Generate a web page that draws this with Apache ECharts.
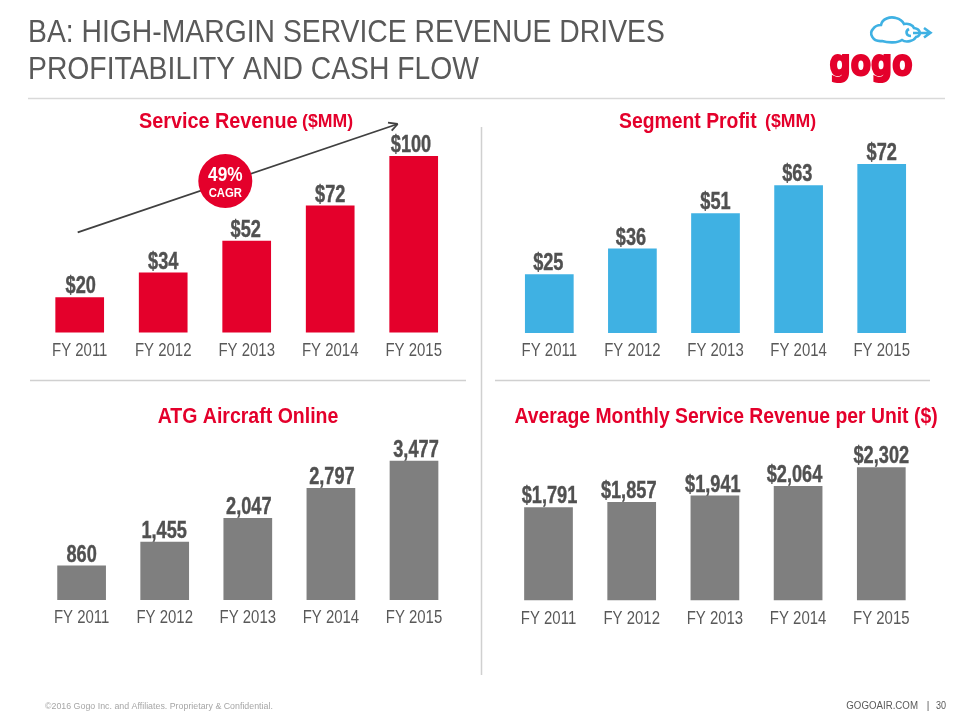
<!DOCTYPE html>
<html><head><meta charset="utf-8"><style>html,body{margin:0;padding:0;background:#fff}#c{width:960px;height:720px}</style>
<script src="https://cdn.jsdelivr.net/npm/echarts@6/dist/echarts.min.js"></script></head>
<body><div id="c"></div><script>
const categories = ['FY 2011','FY 2012','FY 2013','FY 2014','FY 2015'];
const serviceRevenue = [20,34,52,72,100];
const segmentProfit = [25,36,51,63,72];
const aircraftOnline = [860,1455,2047,2797,3477];
const revenuePerUnit = [1791,1857,1941,2064,2302];
const SANS = '"Liberation Sans",Arial,sans-serif';
const RED='#e4002b', BLUE='#3fb1e3', GREY='#7f7f7f', TXT='#595959', VAL='#505050';
const panels = [
 {d:serviceRevenue,c:RED,first:79.7,step:83.5,top:156,bottom:332.5,min:0,max:100,nudge:[1,0,-1,0,-2.7],fmt:v=>'$'+v},
 {d:segmentProfit,c:BLUE,first:549.3,step:83.1,top:164,bottom:333,min:0,max:72,nudge:[-1,-1.4,0,-1.3,0],fmt:v=>'$'+v},
 {d:aircraftOnline,c:GREY,first:81.6,step:83.1,top:460.7,bottom:600,min:0,max:3477,nudge:[0,-.5,1,1,2],fmt:v=>v.toLocaleString('en-US')},
 {d:revenuePerUnit,c:GREY,first:548.5,step:83.2,top:467.3,bottom:600.3,min:600,max:2302,nudge:[1,-3,-2,-3.6,0],fmt:v=>'$'+v.toLocaleString('en-US')}
];
echarts.graphic.registerShape('gogoCloud', echarts.graphic.extendPath(
 'M882 41C872 42 869 33 873 29C875 26 879 25 881 25C882 19 890 16 896 18C900 19 903 22 904 24C908 23 913 25 914 28C921 29 922 36 916 37C914 41 906 43 902 40C898 43 888 43 882 41ZM909 29C905 31 906 36 911 36M913 33L930 33M924 28L930.5 32.7L924 37.5', {}));
const chart = echarts.init(document.getElementById('c'),null,{renderer:'canvas'});
const txt=(x,y,t,font,fill,align,sx)=>({type:'text',x,y,scaleX:sx||1,silent:true,style:{text:t,font,fill,align:align||'left',verticalAlign:'middle'}});
const line=(x1,y1,x2,y2,stroke,w)=>({type:'line',silent:true,shape:{x1,y1,x2,y2},style:{stroke,lineWidth:w||1}});
const graphic=[
 txt(28,33,'BA: HIGH-MARGIN SERVICE REVENUE DRIVES','32px '+SANS,TXT,'left',.885),
 txt(28,70.5,'PROFITABILITY AND CASH FLOW','32px '+SANS,TXT,'left',.885),
 line(28,98.5,945,98.5,'#d9d9d9',1.5),
 line(30,380.5,466,380.5,'#d0d0d0',1.5),
 line(495,380.5,930,380.5,'#d0d0d0',1.5),
 line(481.5,127,481.5,675,'#d0d0d0',1.5),
 txt(139,122,'Service Revenue','bold 22px '+SANS,RED,'left',.9),
 txt(302,122,'($MM)','bold 19px '+SANS,RED,'left',.93),
 txt(619,122,'Segment Profit','bold 22px '+SANS,RED,'left',.88),
 txt(765,122,'($MM)','bold 19px '+SANS,RED,'left',.93),
 txt(248,417,'ATG Aircraft Online','bold 22px '+SANS,RED,'center',.887),
 txt(726,417,'Average Monthly Service Revenue per Unit ($)','bold 22px '+SANS,RED,'center',.88),
 line(77.7,232.3,397.7,124,'#404040',1.8),
 line(397.7,124,388,122.7,'#404040',1.8),
 line(397.7,124,391.7,130.7,'#404040',1.8),
 {type:'circle',silent:true,shape:{cx:225.3,cy:181,r:27},style:{fill:RED}},
 txt(225.3,175,'49%','bold 21px '+SANS,'#fff','center',.82),
 txt(225.3,193.5,'CAGR','bold 13px '+SANS,'#fff','center',.87),
 txt(45,706,'\u00a92016 Gogo Inc. and Affiliates. Proprietary & Confidential.','9.5px '+SANS,'#a6a6a6','left',.93),
 txt(918,706,'GOGOAIR.COM','10px '+SANS,TXT,'right',.97),
 txt(928,706,'|','10px '+SANS,TXT,'center'),
 txt(946,706,'30','10px '+SANS,TXT,'right',.9),
 {type:'gogoCloud',silent:true,style:{fill:'none',stroke:BLUE,lineWidth:2.6}},
 {type:'text',x:871,y:66,scaleX:.82,silent:true,style:{text:'gogo',font:'bold 36px "DejaVu Sans",sans-serif',fill:RED,stroke:RED,lineWidth:2.2,align:'center',verticalAlign:'middle'}}
];
function textSeries(p,i){
 return {type:'custom',xAxisIndex:i,yAxisIndex:i,silent:true,clip:false,z:5,
  data:p.d.map((v,j)=>[j,v]),encode:{x:0,y:1},
  renderItem:(params,api)=>{
   const j=api.value(0), v=api.value(1);
   const t=api.coord([j,v]), b=api.coord([j,p.min]);
   return {type:'group',children:[
    {type:'text',x:t[0]+p.nudge[j],y:t[1]-10.2,scaleX:.79,style:{text:p.fmt(v),font:'bold 23px '+SANS,fill:VAL,stroke:VAL,lineWidth:.4,align:'center',verticalAlign:'middle'}},
    {type:'text',x:b[0],y:b[1]+18.5,scaleX:.83,style:{text:categories[j],font:'18px '+SANS,fill:TXT,align:'center',verticalAlign:'middle'}}
   ]};
  }};
}
chart.setOption({animation:false,
 grid:panels.map(p=>({left:p.first-p.step/2,top:p.top,width:p.step*5,height:p.bottom-p.top})),
 xAxis:panels.map((p,i)=>({type:'category',gridIndex:i,data:categories,axisLine:{show:false},axisTick:{show:false},axisLabel:{show:false}})),
 yAxis:panels.map((p,i)=>({type:'value',gridIndex:i,min:p.min,max:p.max,show:false})),
 series:panels.map((p,i)=>({type:'bar',xAxisIndex:i,yAxisIndex:i,data:p.d,barWidth:48.7,silent:true,itemStyle:{color:p.c}}))
  .concat(panels.map(textSeries)),
 graphic
});
</script></body></html>
